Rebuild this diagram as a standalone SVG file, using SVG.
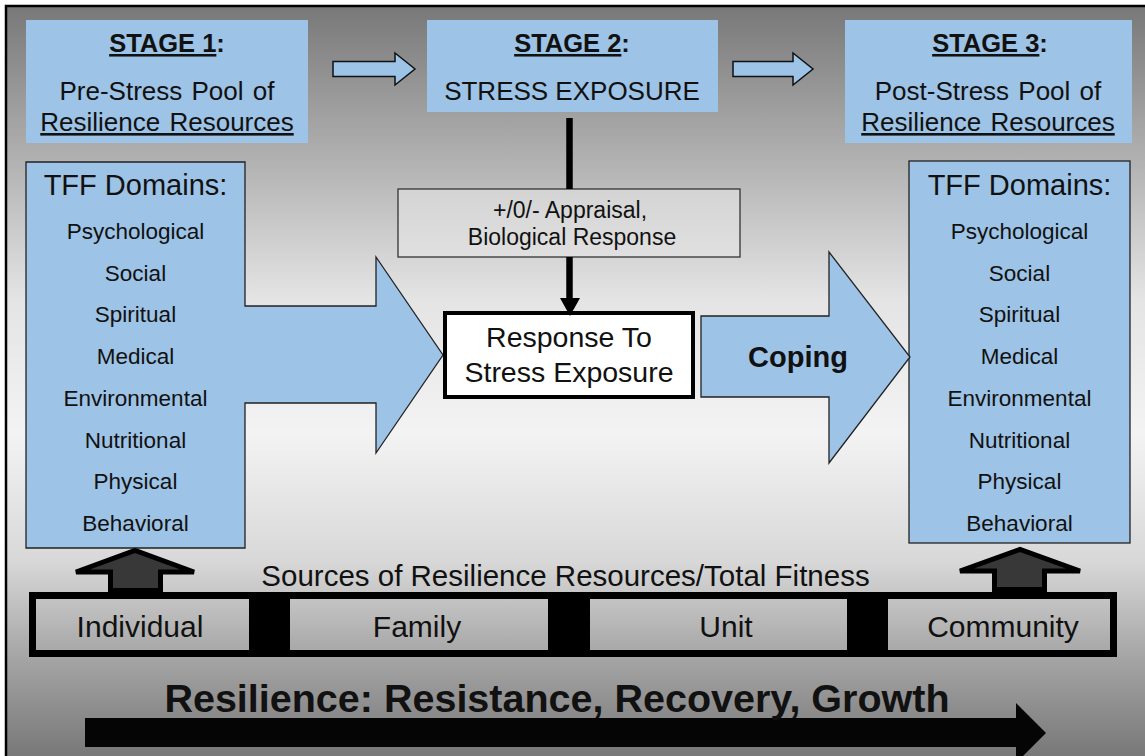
<svg xmlns="http://www.w3.org/2000/svg" width="1145" height="756" viewBox="0 0 1145 756">
<defs>
<linearGradient id="bg" gradientUnits="userSpaceOnUse" x1="0" y1="6" x2="0" y2="756">
<stop offset="0" stop-color="#787878"/>
<stop offset="0.19" stop-color="#adadad"/>
<stop offset="0.39" stop-color="#e4e4e4"/>
<stop offset="0.57" stop-color="#f3f3f3"/>
<stop offset="0.74" stop-color="#d8d8d8"/>
<stop offset="0.86" stop-color="#a8a8a8"/>
<stop offset="1" stop-color="#787878"/>
</linearGradient>
<linearGradient id="grayBox" x1="0" y1="0" x2="0" y2="1">
<stop offset="0" stop-color="#d4d4d4"/>
<stop offset="1" stop-color="#e0e0e0"/>
</linearGradient>
</defs>
<style>
text{font-family:"Liberation Sans",Arial,sans-serif;fill:#111;text-anchor:middle}
.blue{fill:#9dc3e6}
.stage{fill:#9dc3e6}
.outl{stroke:#222;stroke-width:1.3}
.hd{font-weight:bold;font-size:25.5px}
.st{font-size:26px}
.dom{font-size:29px}
.item{font-size:22.5px}
.bar{font-size:30px}
.app{font-size:23px}
.up{fill:#383838;stroke:#000;stroke-width:5;stroke-linejoin:miter}
.small{fill:#9dc3e6;stroke:#111;stroke-width:1.5}
</style>
<rect x="6" y="6" width="1150" height="760" fill="url(#bg)" stroke="#000" stroke-width="2.5"/>

<g id="stage1">
<rect x="26" y="20" width="282" height="123" class="stage"/>
<text x="167" y="52" class="hd"><tspan text-decoration="underline">STAGE 1</tspan>:</text>
<text x="167" y="100" class="st" word-spacing="2">Pre-Stress Pool of</text>
<text x="167" y="131" class="st" text-decoration="underline" word-spacing="2">Resilience Resources</text>
</g>

<g id="stage2">
<rect x="427" y="20" width="291" height="92" class="stage"/>
<text x="572" y="52" class="hd"><tspan text-decoration="underline">STAGE 2</tspan>:</text>
<text x="572" y="100" class="st">STRESS EXPOSURE</text>
</g>

<g id="stage3">
<rect x="845" y="20" width="287" height="123" class="stage"/>
<text x="990" y="52" class="hd"><tspan text-decoration="underline">STAGE 3</tspan>:</text>
<text x="988" y="100" class="st" word-spacing="2">Post-Stress Pool of</text>
<text x="988" y="131" class="st" text-decoration="underline" word-spacing="2">Resilience Resources</text>
</g>

<g id="tff-left">
<path d="M26,162 H245 V306 H376 V257 L443,355 L376,453 V403 H245 V548 H26 Z" class="blue outl"/>
<text x="135.5" y="195" class="dom">TFF Domains:</text>
<text x="135.5" y="239" class="item">Psychological</text>
<text x="135.5" y="280.7" class="item">Social</text>
<text x="135.5" y="322.4" class="item">Spiritual</text>
<text x="135.5" y="364.1" class="item">Medical</text>
<text x="135.5" y="405.8" class="item">Environmental</text>
<text x="135.5" y="447.5" class="item">Nutritional</text>
<text x="135.5" y="489.2" class="item">Physical</text>
<text x="135.5" y="530.9" class="item">Behavioral</text>
</g>

<g id="tff-right">
<rect x="909" y="161" width="221" height="382" class="blue outl"/>
<text x="1019.5" y="195" class="dom">TFF Domains:</text>
<text x="1019.5" y="239" class="item">Psychological</text>
<text x="1019.5" y="280.7" class="item">Social</text>
<text x="1019.5" y="322.4" class="item">Spiritual</text>
<text x="1019.5" y="364.1" class="item">Medical</text>
<text x="1019.5" y="405.8" class="item">Environmental</text>
<text x="1019.5" y="447.5" class="item">Nutritional</text>
<text x="1019.5" y="489.2" class="item">Physical</text>
<text x="1019.5" y="530.9" class="item">Behavioral</text>
</g>

<g id="appraisal">
<rect x="398" y="189" width="342" height="68" fill="url(#grayBox)" stroke="#333" stroke-width="1.3"/>
<text x="570" y="218" class="app">+/0/- Appraisal,</text>
<text x="572" y="245" class="app">Biological Response</text>
</g>

<g id="response">
<rect x="445" y="313" width="248" height="84" fill="#fff" stroke="#000" stroke-width="4"/>
<text x="569" y="347" font-size="28.5px">Response To</text>
<text x="569" y="382" font-size="28.5px">Stress Exposure</text>
</g>

<g id="coping">
<path d="M701,316 H829 V252 L910,357 L829,463 V397 H701 Z" class="blue outl"/>
<text x="798" y="367" font-size="29px" font-weight="bold">Coping</text>
</g>

<g id="sources">
<text x="565.5" y="586" font-size="29.5px">Sources of Resilience Resources/Total Fitness</text>
<rect x="32.5" y="595.5" width="1081" height="58" fill="none" stroke="#000" stroke-width="7"/>
<rect x="249" y="596" width="41" height="58" fill="#000"/>
<rect x="548" y="596" width="42" height="58" fill="#000"/>
<rect x="847" y="596" width="41" height="58" fill="#000"/>
<text x="140" y="637" class="bar">Individual</text>
<text x="417" y="637" class="bar">Family</text>
<text x="726" y="637" class="bar">Unit</text>
<text x="1003" y="637" class="bar">Community</text>
</g>

<g id="resilience">
<path d="M85,718 H1016 V703 L1046,733 L1016,763 V747 H85 Z" fill="#050505"/>
<text x="557" y="712" font-size="39.5px" font-weight="bold">Resilience: Resistance, Recovery, Growth</text>
</g>

<g id="connectors">
<path d="M333,61.5 H395 V53 L415,69 L395,85 V76.5 H333 Z" class="small"/>
<path d="M733,61.5 H793 V53 L813,69 L793,85 V76.5 H733 Z" class="small"/>
<line x1="569.5" y1="118" x2="569.5" y2="189" stroke="#000" stroke-width="6.5"/>
<line x1="569.5" y1="257" x2="569.5" y2="300" stroke="#000" stroke-width="6.5"/>
<polygon points="560,298 580,298 570,316" fill="#000"/>
<path d="M110.5,590.5 V572 H76 L135,550.5 L194,572 H160.5 V590.5 Z" class="up"/>
<path d="M994.5,589.5 V571 H960 L1020,549.5 L1080,571 H1044.5 V589.5 Z" class="up"/>
</g>
</svg>
